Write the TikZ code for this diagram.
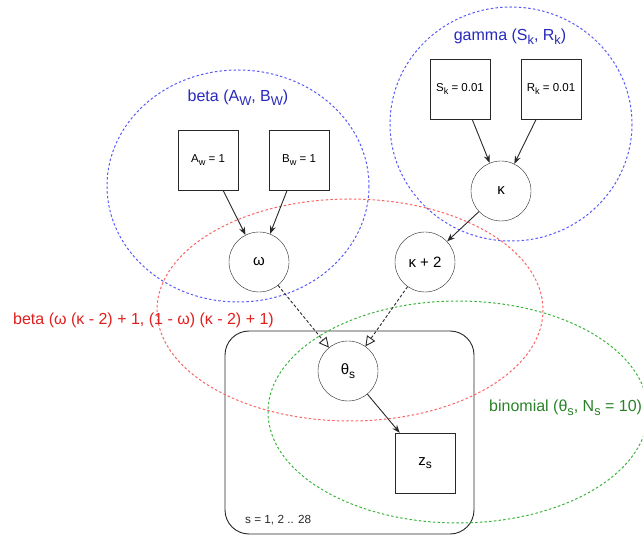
\documentclass[tikz,border=0pt]{standalone}
\usepackage{fontspec}
\setmainfont{Liberation Sans}
\usetikzlibrary{arrows.meta}
\definecolor{distblue}{RGB}{40,40,190}
\definecolor{ringblue}{RGB}{90,90,250}
\definecolor{distred}{RGB}{225,30,30}
\definecolor{ringred}{RGB}{250,100,100}
\definecolor{distgreen}{RGB}{40,130,40}
\definecolor{ringgreen}{RGB}{60,180,60}
\definecolor{edge}{RGB}{40,40,40}
\newcommand{\lowsub}[1]{\raisebox{-0.45ex}{\scalebox{0.8}{#1}}}
\begin{document}
\begin{tikzpicture}[x=1pt,y=-1pt]
\tikzstyle{every node}+=[inner sep=0pt]
\tikzstyle{const}=[draw=edge, fill=white, minimum size=60, font=\fontsize{11.5}{13}\selectfont]
\tikzstyle{rv}=[draw=edge, fill=white, circle, minimum size=60, font=\fontsize{15}{17}\selectfont]
\tikzstyle{ring}=[line width=1pt, dash pattern=on 2.5pt off 2.2pt]
\tikzstyle{dist}=[font=\fontsize{16}{18}\selectfont]
\tikzstyle{dep}=[draw=edge, line width=0.9pt, -{Stealth[length=8pt,width=6pt]}]
\tikzstyle{samp}=[draw=edge, line width=0.9pt, dash pattern=on 3pt off 2pt, -{Triangle[open,length=10pt,width=10pt]}]
\useasboundingbox (0,0) rectangle (643,537);
% plate
\draw[edge, line width=0.9pt, rounded corners=24] (225,331) rectangle (474,534);
\node[font=\fontsize{11.75}{13}\selectfont, text=edge, anchor=west] (plate) at (245,520) {s = 1, 2 .. 28};
% distribution rings
\draw[ring, ringblue] (238,186) ellipse (131 and 116);
\draw[ring, ringblue] (511,124) ellipse (121 and 117);
\draw[ring, ringred] (350,310) ellipse (193 and 111);
\draw[ring, ringgreen] (458,412) ellipse (190 and 111);
\node[dist, text=distblue] (betaw) at (238,98) {beta (A\lowsub{W}, B\lowsub{W})};
\node[dist, text=distblue] (gammak) at (510,37) {gamma (S\lowsub{k}, R\lowsub{k})};
\node[dist, text=distred, anchor=west] (betat) at (13,320) {beta (ω (κ - 2) + 1, (1 - ω) (κ - 2) + 1)};
\node[dist, text=distgreen, anchor=west] (binom) at (489,408) {binomial (θ\lowsub{s}, N\lowsub{s} = 10)};
% constants
\node[const] (aw) at (208,160) {A\lowsub{w} = 1};
\node[const] (bw) at (299,160) {B\lowsub{w} = 1};
\node[const] (sk) at (460,89) {S\lowsub{k} = 0.01};
\node[const] (rk) at (551,89) {R\lowsub{k} = 0.01};
% variables
\node[rv] (omega) at (259,262) {ω};
\node[rv] (kappa) at (501,191) {κ};
\node[rv] (kappa2) at (425,262) {κ + 2};
\node[rv] (theta) at (348,371) {θ\lowsub{s}};
\node[const, font=\fontsize{15}{17}\selectfont] (z) at (425,463) {z\lowsub{s}};
% edges
\draw[dep] (aw) -- (omega);
\draw[dep] (bw) -- (omega);
\draw[dep] (sk) -- (kappa);
\draw[dep] (rk) -- (kappa);
\draw[dep] (kappa) -- (kappa2);
\draw[samp] (omega) -- (theta);
\draw[samp] (kappa2) -- (theta);
\draw[dep] (theta) -- (z);
\end{tikzpicture}
\end{document}
